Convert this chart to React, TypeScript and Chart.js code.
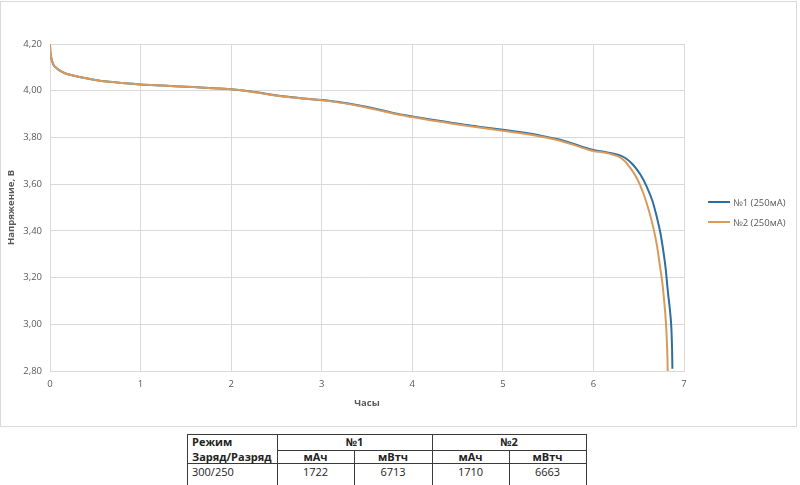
import React, { useEffect, useRef } from "react";
import { Chart, registerables } from "chart.js";

Chart.register(...registerables);

// Series №1 (blue)
const hours1 = [0, 0.003, 0.01, 0.02, 0.04, 0.07, 0.11, 0.16, 0.22, 0.3, 0.4, 0.5, 0.63, 0.8, 1.0, 1.25, 1.5, 1.75, 2.0, 2.2, 2.4, 2.6, 2.8, 3.0, 3.2, 3.4, 3.6, 3.8, 4.0, 4.2, 4.4, 4.6, 4.8, 5.0, 5.2, 5.4, 5.6, 5.8, 5.9, 6.0, 6.1, 6.2, 6.3, 6.36, 6.44, 6.52, 6.59, 6.65, 6.7, 6.74, 6.77, 6.8, 6.82, 6.845, 6.86, 6.868, 6.872];
const volts1 = [4.2, 4.17, 4.15, 4.13, 4.11, 4.097, 4.086, 4.076, 4.068, 4.061, 4.053, 4.046, 4.039, 4.033, 4.027, 4.022, 4.017, 4.012, 4.006, 3.998, 3.986, 3.975, 3.967, 3.96, 3.951, 3.938, 3.922, 3.904, 3.89, 3.877, 3.865, 3.853, 3.843, 3.833, 3.822, 3.809, 3.793, 3.77, 3.757, 3.746, 3.74, 3.732, 3.722, 3.71, 3.682, 3.64, 3.588, 3.53, 3.459, 3.39, 3.318, 3.23, 3.147, 3.06, 2.988, 2.9, 2.81];

// Series №2 (orange)
const hours2 = [0, 0.003, 0.01, 0.02, 0.04, 0.07, 0.11, 0.16, 0.22, 0.3, 0.4, 0.5, 0.63, 0.8, 1.0, 1.25, 1.5, 1.75, 2.0, 2.2, 2.4, 2.6, 2.8, 3.0, 3.2, 3.4, 3.6, 3.8, 4.0, 4.2, 4.4, 4.6, 4.8, 5.0, 5.2, 5.4, 5.6, 5.8, 5.9, 6.0, 6.1, 6.2, 6.29, 6.35, 6.4, 6.48, 6.55, 6.61, 6.66, 6.7, 6.73, 6.76, 6.78, 6.8, 6.81, 6.817, 6.82];
const volts2 = [4.2, 4.17, 4.15, 4.13, 4.11, 4.097, 4.086, 4.076, 4.068, 4.061, 4.053, 4.046, 4.039, 4.033, 4.027, 4.022, 4.017, 4.012, 4.006, 3.997, 3.985, 3.974, 3.966, 3.959, 3.949, 3.936, 3.919, 3.901, 3.887, 3.874, 3.862, 3.85, 3.839, 3.829, 3.818, 3.805, 3.789, 3.766, 3.753, 3.742, 3.736, 3.728, 3.716, 3.697, 3.673, 3.625, 3.562, 3.49, 3.416, 3.34, 3.262, 3.18, 3.104, 3.01, 2.933, 2.86, 2.8];

const seriesNames = ["№1 (250мА)", "№2 (250мА)"];
const seriesColors = ["#2b6fa3", "#d99a5b"];

const tableHeader = ["Режим", "№1", "№2"];
const tableSub = ["Заряд/Разряд", "мАч", "мВтч", "мАч", "мВтч"];
const tableRow = ["300/250", "1722", "6713", "1710", "6663"];

const FONT = "'Open Sans', 'Noto Sans', sans-serif";

export default function App() {
  const ref = useRef<HTMLCanvasElement | null>(null);

  useEffect(() => {
    if (!ref.current) return;
    const chart = new Chart(ref.current, {
      type: "line",
      data: {
        datasets: [
          {
            label: seriesNames[0],
            data: hours1.map((h, i) => ({ x: h, y: volts1[i] })),
            borderColor: seriesColors[0],
            backgroundColor: seriesColors[0],
            borderWidth: 2,
            pointRadius: 0,
            cubicInterpolationMode: "monotone",
            order: 1,
          },
          {
            label: seriesNames[1],
            data: hours2.map((h, i) => ({ x: h, y: volts2[i] })),
            borderColor: seriesColors[1],
            backgroundColor: seriesColors[1],
            borderWidth: 2,
            pointRadius: 0,
            cubicInterpolationMode: "monotone",
            order: 0,
          },
        ],
      },
      options: {
        responsive: false,
        animation: false,
        layout: { padding: { left: 0, top: 44, right: 116, bottom: 0 } },
        plugins: { legend: { display: false }, tooltip: { enabled: false } },
        scales: {
          x: {
            type: "linear",
            min: 0,
            max: 7,
            ticks: {
              stepSize: 1,
              color: "#595959",
              font: { family: FONT, size: 9.5 },
              padding: 8,
              callback: (v: any) => String(v),
            },
            grid: { color: "#d9d9d9", drawTicks: false },
            border: { color: "#d9d9d9" },
            title: {
              display: true,
              text: "Часы",
              color: "#595959",
              font: { family: FONT, size: 9.5, weight: "bold" },
              padding: { top: 17, bottom: 17 },
            },
            afterFit: (s: any) => {
              s.height = 55;
            },
          },
          y: {
            type: "linear",
            min: 2.8,
            max: 4.2,
            ticks: {
              stepSize: 0.2,
              color: "#595959",
              font: { family: FONT, size: 9.5 },
              padding: 8,
              callback: (v: any) => Number(v).toFixed(2).replace(".", ","),
            },
            grid: { color: "#d9d9d9", drawTicks: false },
            border: { color: "#d9d9d9" },
            title: {
              display: true,
              text: "Напряжение, В",
              color: "#595959",
              font: { family: FONT, size: 9.5, weight: "bold" },
              padding: { top: 6, bottom: 6 },
            },
            afterFit: (s: any) => {
              s.width = 50;
            },
          },
        },
      },
    });
    return () => chart.destroy();
  }, []);

  const line = (l: number, t: number, w: number, h: number, key: string) => (
    <div key={key} style={{ position: "absolute", left: l, top: t, width: w, height: h, background: "#3a3a3a" }} />
  );

  const cell = (
    text: string,
    l: number,
    t: number,
    w: number,
    h: number,
    bold: boolean,
    align: "left" | "center",
    key: string
  ) => (
    <div
      key={key}
      style={{
        position: "absolute",
        left: l,
        top: t,
        width: w,
        height: h,
        lineHeight: h + "px",
        textAlign: align,
        fontFamily: FONT,
        fontSize: 11,
        fontWeight: bold ? 700 : 400,
        color: "#222",
        paddingLeft: align === "left" ? 5 : 0,
        boxSizing: "border-box",
        whiteSpace: "nowrap",
      }}
    >
      {text}
    </div>
  );

  const cols = [187, 277, 354, 432, 509, 586];

  return (
    <div style={{ position: "absolute", left: 0, top: 0, width: 800, height: 485, background: "#fff", overflow: "hidden" }}>
      <div
        style={{
          position: "absolute",
          left: 0,
          top: 1,
          width: 797,
          height: 426,
          border: "1px solid #d9d9d9",
          boxSizing: "border-box",
        }}
      />
      <canvas ref={ref} width={800} height={426} style={{ position: "absolute", left: 0, top: 0, width: 800, height: 426 }} />
      {seriesNames.map((n, i) => (
        <div key={n} style={{ position: "absolute", left: 708, top: 202 + i * 20 - 7, height: 14, display: "flex", alignItems: "center" }}>
          <div style={{ width: 22, height: 2, background: seriesColors[i], marginRight: 3 }} />
          <span style={{ fontFamily: FONT, fontSize: 9.5, color: "#595959", whiteSpace: "nowrap" }}>{n}</span>
        </div>
      ))}
      {line(187, 434, 400, 1, "h1")}
      {line(277, 450, 310, 1, "h2")}
      {line(187, 463, 400, 1, "h3")}
      {line(187, 434, 1, 60, "v0")}
      {line(277, 434, 1, 60, "v1")}
      {line(432, 434, 1, 60, "v3")}
      {line(586, 434, 1, 60, "v5")}
      {line(354, 450, 1, 40, "v2")}
      {line(509, 450, 1, 40, "v4")}
      {cell(tableHeader[0], 187, 434, 90, 16, true, "left", "c0")}
      {cell(tableHeader[1], 277, 434, 155, 16, true, "center", "c1")}
      {cell(tableHeader[2], 432, 434, 154, 16, true, "center", "c2")}
      {tableSub.map((t, i) =>
        cell(t, cols[i], 450, cols[i + 1] - cols[i], 13, true, i === 0 ? "left" : "center", "s" + i)
      )}
      {tableRow.map((t, i) =>
        cell(t, cols[i], 463, cols[i + 1] - cols[i], 17, false, i === 0 ? "left" : "center", "r" + i)
      )}
    </div>
  );
}
